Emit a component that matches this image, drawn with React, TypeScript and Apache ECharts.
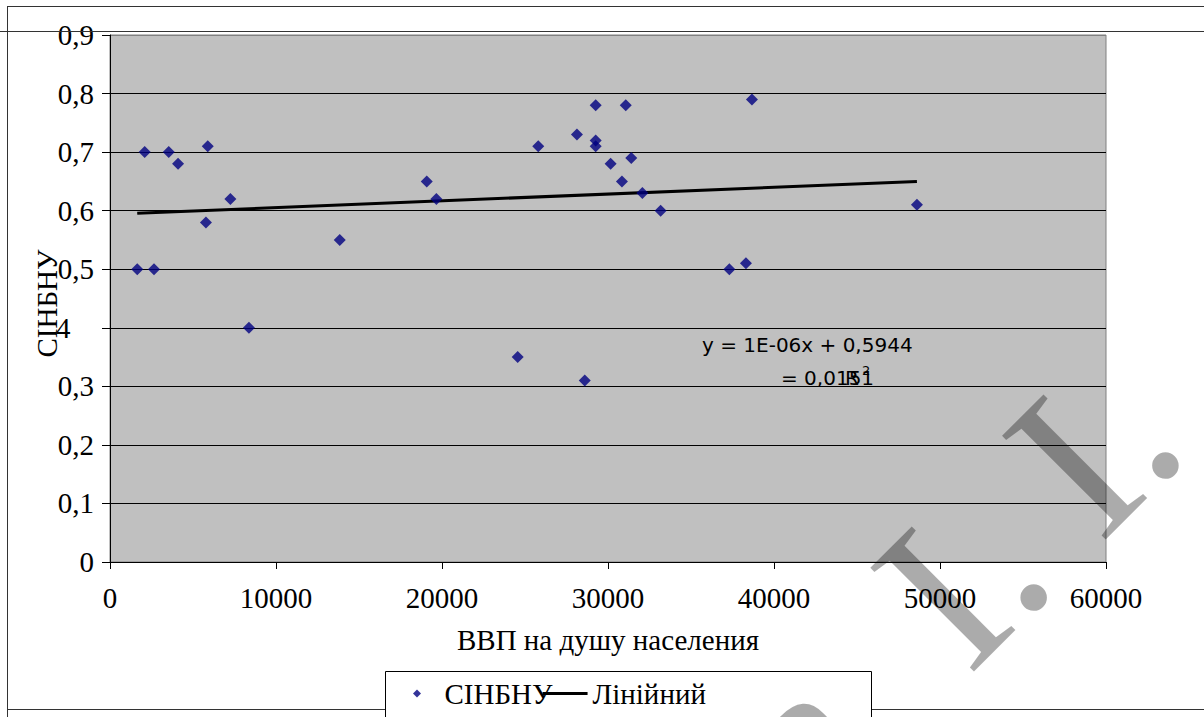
import React, { useEffect, useRef } from "react";
import * as echarts from "echarts";

// GDP per capita (x) and СІНБНУ index (y)
const gdpPerCapita = [
  1640, 2090, 2650, 3540, 4100, 5780, 5890, 7250, 8370, 13840, 19080, 19660,
  24560, 25800, 28130, 28600, 29260, 29260, 29260, 30160, 30840, 31070, 31400,
  32070, 33170, 37310, 38310, 38670, 48610,
];
const sinbnu = [
  0.5, 0.7, 0.5, 0.7, 0.68, 0.58, 0.71, 0.62, 0.4, 0.55, 0.65, 0.62, 0.35,
  0.71, 0.73, 0.31, 0.78, 0.72, 0.71, 0.68, 0.65, 0.78, 0.69, 0.63, 0.6, 0.5,
  0.51, 0.79, 0.61,
];

// Linear trend line end points
const trendX = [1640, 48610];
const trendY = [0.5955, 0.65];

// Tick labels as they appear in the reference
const yTickLabels = ["0", "0,1", "0,2", "0,3", "4", "0,5", "0,6", "0,7", "0,8", "0,9"];
const xTickLabels = ["0", "10000", "20000", "30000", "40000", "50000", "60000"];

const seriesName = "СІНБНУ";
const trendName = "Лінійний";
const xAxisTitle = "ВВП на душу населения";
const yAxisTitle = "СІНБНУ";
const equationText = "y = 1E-06x + 0,5944";
const r2Text = "= 0,0151";

const SERIF = "Liberation Serif";
const SANS = "DejaVu Sans";

export default function App() {
  const ref = useRef<HTMLDivElement>(null);

  useEffect(() => {
    if (!ref.current) return;
    const chart = echarts.init(ref.current, undefined, { renderer: "svg" });

    const points = gdpPerCapita.map((x, i) => [x, sinbnu[i]]);
    const trend = trendX.map((x, i) => [x, trendY[i]]);
    const gridColors = yTickLabels.map((_, i) => (i === yTickLabels.length - 1 ? "#808080" : "#000"));

    const option: any = {
      animation: false,
      backgroundColor: "#ffffff",
      textStyle: { fontFamily: SERIF },
      grid: {
        left: 110,
        top: 35,
        right: 98,
        bottom: 155,
        show: true,
        backgroundColor: "#C0C0C0",
        borderColor: "#808080",
        borderWidth: 1,
      },
      xAxis: {
        type: "value",
        min: 0,
        max: 60000,
        interval: 10000,
        name: xAxisTitle,
        nameLocation: "middle",
        nameGap: 63,
        nameMoveOverlap: false,
        nameTextStyle: { fontFamily: SERIF, fontSize: 29, color: "#000" },
        axisLine: { show: true, lineStyle: { color: "#000", width: 1 } },
        axisTick: { show: true, inside: false, length: 7, lineStyle: { color: "#000" } },
        axisLabel: {
          margin: 21,
          fontFamily: SERIF,
          fontSize: 29,
          color: "#000",
          formatter: (v: number) => xTickLabels[Math.round(v / 10000)] ?? "",
        },
        splitLine: { show: false },
      },
      yAxis: {
        type: "value",
        min: 0,
        max: 0.9,
        interval: 0.1,
        name: yAxisTitle,
        nameLocation: "middle",
        nameRotate: 90,
        nameGap: 49,
        nameMoveOverlap: false,
        nameTextStyle: {
          fontFamily: SERIF,
          fontSize: 29,
          color: "#000",
          padding: [0, 10, 0, 0],
        },
        axisLine: { show: true, lineStyle: { color: "#000", width: 1 } },
        axisTick: { show: true, inside: false, length: 8, lineStyle: { color: "#000" } },
        axisLabel: {
          margin: 16,
          fontFamily: SERIF,
          fontSize: 29,
          color: "#000",
          formatter: (v: number) => {
            const idx = Math.round(v * 10);
            const s = yTickLabels[idx] ?? "";
            if (idx === 4) return "{shift|" + s + "}";
            return s;
          },
          rich: {
            shift: {
              fontFamily: SERIF,
              fontSize: 29,
              color: "#000",
              width: 38,
              align: "left",
            },
          },
        },
        splitLine: { show: true, lineStyle: { color: gridColors, width: 1 } },
      },
      legend: {
        data: [
          { name: seriesName, icon: "path://M4,0 L8,4 L4,8 L0,4 Z" },
          { name: trendName, icon: "path://M0,0 L45,0 L45,3 L0,3 Z" },
        ],
        left: 413,
        top: 679,
        padding: 0,
        itemGap: -10,
        itemWidth: 45,
        itemHeight: 8,
        symbolKeepAspect: true,
        selectedMode: false,
        textStyle: { fontFamily: SERIF, fontSize: 29, color: "#000" },
      },
      series: [
        {
          name: trendName,
          type: "line",
          data: trend,
          symbol: "none",
          lineStyle: { color: "#000", width: 3 },
          itemStyle: { color: "#000" },
          z: 2,
        },
        {
          name: seriesName,
          type: "scatter",
          data: points,
          symbol: "diamond",
          symbolSize: 12,
          itemStyle: { color: "#000080" },
          z: 3,
        },
      ],
      graphic: [
        { type: "line", z: 1, shape: { x1: 7, y1: 6.5, x2: 1204, y2: 6.5 }, style: { stroke: "#333", lineWidth: 1 } },
        { type: "line", z: 1, shape: { x1: 0, y1: 31.5, x2: 1204, y2: 31.5 }, style: { stroke: "#333", lineWidth: 1 } },
        { type: "line", z: 1, shape: { x1: 7.5, y1: 6, x2: 7.5, y2: 717 }, style: { stroke: "#333", lineWidth: 1 } },
        { type: "line", z: 1, shape: { x1: 7, y1: 709.5, x2: 1204, y2: 709.5 }, style: { stroke: "#333", lineWidth: 1 } },
        {
          type: "rect",
          z: 3,
          shape: { x: 385.5, y: 671.5, width: 486, height: 60 },
          style: { fill: "#fff", stroke: "#000", lineWidth: 1 },
        },
        {
          type: "text",
          z: 10,
          x: 702,
          y: 345,
          style: { text: equationText, fontFamily: SANS, fontSize: 20, fill: "#000", align: "left", verticalAlign: "middle" },
        },
        {
          type: "text",
          z: 10,
          x: 781,
          y: 378,
          style: { text: r2Text, fontFamily: SANS, fontSize: 20, fill: "#000", align: "left", verticalAlign: "middle" },
        },
        {
          type: "text",
          z: 10,
          x: 845,
          y: 378,
          style: { text: "R", fontFamily: SANS, fontSize: 20, fill: "#000", align: "left", verticalAlign: "middle" },
        },
        {
          type: "text",
          z: 10,
          x: 862,
          y: 370,
          style: { text: "2", fontFamily: SANS, fontSize: 13, fill: "#000", align: "left", verticalAlign: "middle" },
        },
        {
          type: "text",
          z: 100,
          x: 765,
          y: 773,
          rotation: Math.PI / 4,
          style: {
            text: "a  I. I.",
            fontFamily: SERIF,
            fontSize: 224,
            fill: "rgba(0,0,0,0.33)",
            align: "left",
            verticalAlign: "middle",
          },
        },
      ],
    };

    chart.setOption(option);
    return () => chart.dispose();
  }, []);

  return (
    <div
      ref={ref}
      style={{ position: "fixed", left: 0, top: 0, width: 1204, height: 717, background: "#fff" }}
    />
  );
}
